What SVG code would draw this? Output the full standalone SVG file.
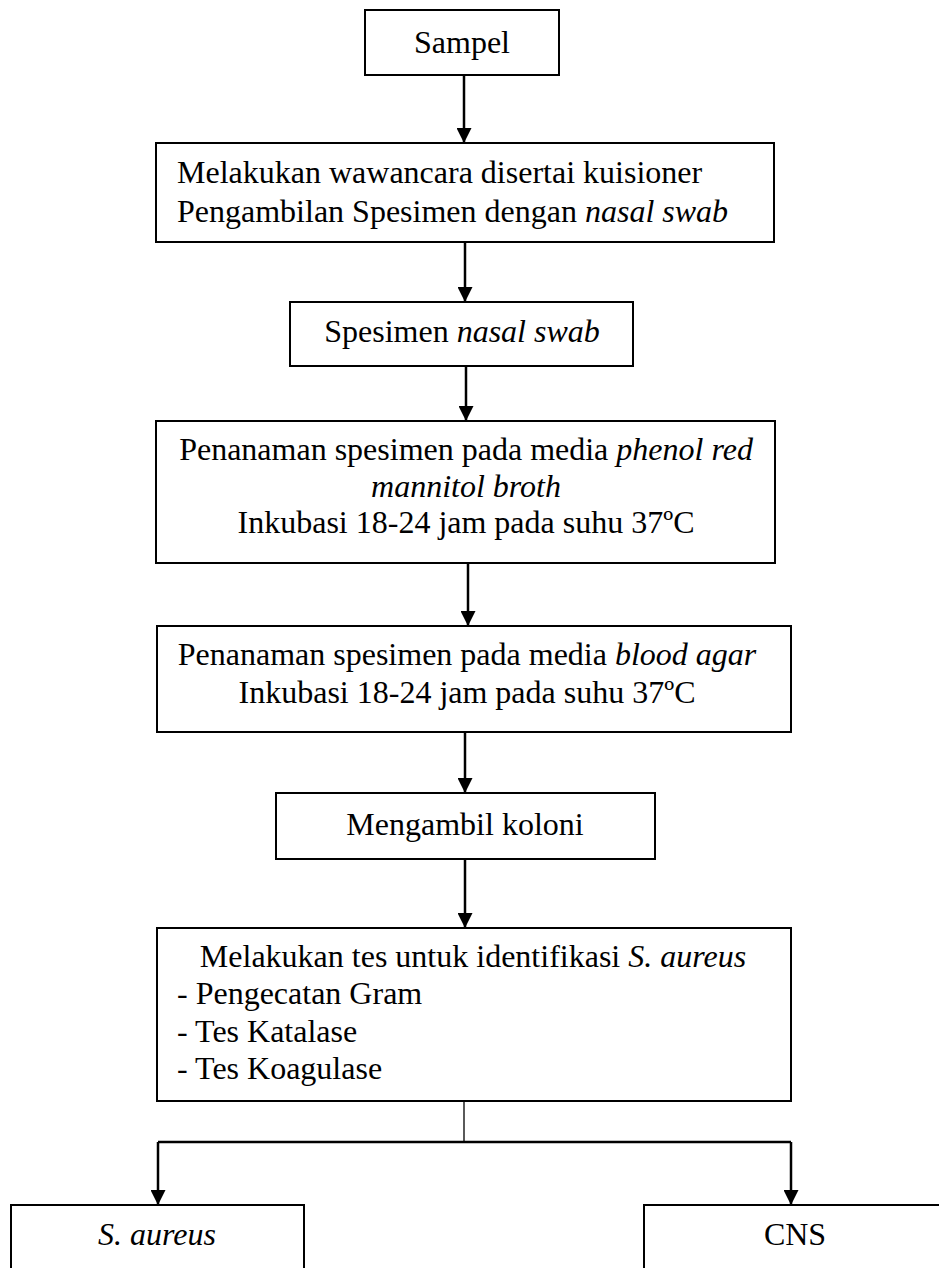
<svg xmlns="http://www.w3.org/2000/svg" width="939" height="1268" viewBox="0 0 939 1268">
<style>
.box{fill:#fff;stroke:#000;stroke-width:2}
.t{font-family:"Liberation Serif","Times New Roman",serif;font-size:32px;fill:#000}
.c{text-anchor:middle}
.i{font-style:italic}
.ln{stroke:#000;stroke-width:2.5;fill:none}
.thin{stroke:#000;stroke-width:1.3;fill:none}
</style>
<defs>
<marker id="ah" markerUnits="userSpaceOnUse" markerWidth="15" markerHeight="15" refX="15" refY="7.5" orient="auto" viewBox="0 0 15 15">
<path d="M0,0 L15,7.5 L0,15 Z" fill="#000"/>
</marker>
</defs>
<rect width="939" height="1268" fill="#fff"/>
<g id="connectors">
<line class="ln" x1="464" y1="75" x2="464" y2="143" marker-end="url(#ah)"/>
<line class="ln" x1="465" y1="242" x2="465" y2="302" marker-end="url(#ah)"/>
<line class="ln" x1="466" y1="366" x2="466" y2="421" marker-end="url(#ah)"/>
<line class="ln" x1="468" y1="563" x2="468" y2="626" marker-end="url(#ah)"/>
<line class="ln" x1="465" y1="732" x2="465" y2="793" marker-end="url(#ah)"/>
<line class="ln" x1="465" y1="859" x2="465" y2="928" marker-end="url(#ah)"/>
<line class="thin" x1="464" y1="1101" x2="464" y2="1142"/>
<line class="ln" x1="158" y1="1142" x2="791" y2="1142"/>
<line class="ln" x1="158" y1="1142" x2="158" y2="1205" marker-end="url(#ah)"/>
<line class="ln" x1="791" y1="1142" x2="791" y2="1205" marker-end="url(#ah)"/>
</g>
<g id="n1">
<rect class="box" x="365" y="10" width="194" height="65"/>
<text class="t c" x="462" y="53">Sampel</text>
</g>
<g id="n2">
<rect class="box" x="156" y="143" width="618" height="99"/>
<text class="t" x="177" y="183">Melakukan wawancara disertai kuisioner</text>
<text class="t" x="177" y="222">Pengambilan Spesimen dengan <tspan class="i">nasal swab</tspan></text>
</g>
<g id="n3">
<rect class="box" x="290" y="302" width="343" height="64"/>
<text class="t c" x="462" y="342">Spesimen <tspan class="i">nasal swab</tspan></text>
</g>
<g id="n4">
<rect class="box" x="156" y="421" width="619" height="142"/>
<text class="t c" x="466" y="460">Penanaman spesimen pada media <tspan class="i">phenol red</tspan></text>
<text class="t c i" x="466" y="497">mannitol broth</text>
<text class="t c" x="466" y="533">Inkubasi 18-24 jam pada suhu 37ºC</text>
</g>
<g id="n5">
<rect class="box" x="157" y="626" width="634" height="106"/>
<text class="t c" x="467" y="665">Penanaman spesimen pada media <tspan class="i">blood agar</tspan></text>
<text class="t c" x="467" y="703">Inkubasi 18-24 jam pada suhu 37ºC</text>
</g>
<g id="n6">
<rect class="box" x="276" y="793" width="379" height="66"/>
<text class="t c" x="465" y="835">Mengambil koloni</text>
</g>
<g id="n7">
<rect class="box" x="157" y="928" width="634" height="173"/>
<text class="t c" x="473" y="967">Melakukan tes untuk identifikasi <tspan class="i">S. aureus</tspan></text>
<text class="t" x="177" y="1004">- Pengecatan Gram</text>
<text class="t" x="177" y="1042">- Tes Katalase</text>
<text class="t" x="177" y="1079">- Tes Koagulase</text>
</g>
<g id="n8">
<rect class="box" x="11" y="1205" width="293" height="80"/>
<text class="t c i" x="157" y="1245">S. aureus</text>
</g>
<g id="n9">
<rect class="box" x="644" y="1205" width="320" height="80"/>
<text class="t c" x="795" y="1245">CNS</text>
</g>
</svg>
